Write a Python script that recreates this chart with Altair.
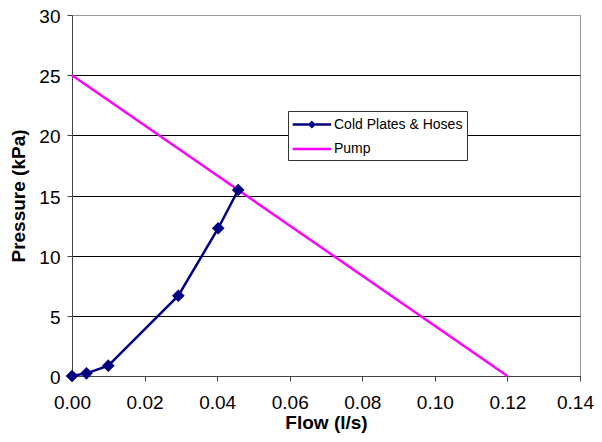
import altair as alt
import pandas as pd

# Data
cold_flow = [0.0, 0.0040, 0.0100, 0.0293, 0.0403, 0.0458]
cold_pressure = [0.0, 0.22, 0.86, 6.67, 12.28, 15.46]
pump_flow = [0.0, 0.12]
pump_pressure = [25.0, 0.0]

series_names = ["Cold Plates & Hoses", "Pump"]
series_colors = ["#000080", "#FF00FF"]
x_ticks = [0.0, 0.02, 0.04, 0.06, 0.08, 0.10, 0.12, 0.14]
y_ticks = [0, 5, 10, 15, 20, 25, 30]

rows = []
for i, (f, p) in enumerate(zip(cold_flow, cold_pressure)):
    rows.append({"series": series_names[0], "flow": f, "pressure": p, "order": i})
for i, (f, p) in enumerate(zip(pump_flow, pump_pressure)):
    rows.append({"series": series_names[1], "flow": f, "pressure": p, "order": i})
df = pd.DataFrame(rows)
cold_df = df[df["series"] == series_names[0]]

FONT = "Liberation Sans"
FS = 19

x_enc = alt.X(
    "flow:Q",
    scale=alt.Scale(domain=[0, 0.14], nice=False, zero=False),
    axis=alt.Axis(
        values=x_ticks, format=".2f", title="Flow (l/s)", grid=False,
        labelFont=FONT, labelFontSize=FS, labelColor="#000",
        titleFont=FONT, titleFontSize=FS, titleFontWeight="bold", titleColor="#000",
        tickSize=5, labelPadding=12, titlePadding=1,
        domainColor="#444", tickColor="#444", labelFlush=False, labelOverlap=False,
        labelOffset={"condition": {"test": "datum.value > 0.139", "value": -5}, "value": 0},
    ),
)
y_enc = alt.Y(
    "pressure:Q",
    scale=alt.Scale(domain=[0, 30], nice=False, zero=False),
    axis=alt.Axis(
        values=y_ticks, title="Pressure (kPa)", grid=True,
        gridColor={"condition": {"test": "datum.value >= 30", "value": "#999999"}, "value": "#000000"},
        gridWidth=1,
        labelFont=FONT, labelFontSize=FS, labelColor="#000",
        titleFont=FONT, titleFontSize=FS, titleFontWeight="bold", titleColor="#000",
        tickSize=5, labelPadding=7, titlePadding=10, labelOffset=1.5,
        domainColor="#444", tickColor="#444", labelFlush=False, labelOverlap=False,
    ),
)

cold_symbol = "M-1.1,0L3.7,0M1.3,-0.28L1.58,0L1.3,0.28L1.02,0Z"
pump_symbol = "M-1.1,0L3.7,0"

leg = alt.Legend(
    title=None, orient="none", legendX=216, legendY=96,
    fillColor="white", strokeColor="#333", padding=4,
    symbolType={"expr": "datum.label == 'Pump' ? '%s' : '%s'" % (pump_symbol, cold_symbol)},
    symbolFillColor={"expr": "scale('color', datum.value)"},
    symbolSize=256, symbolStrokeWidth=2.5, symbolOpacity=1,
    labelFont=FONT, labelFontSize=14, labelColor="#000", labelOffset=23,
    rowPadding=7.5, labelLimit=300,
)

lines = alt.Chart(df).mark_line(strokeWidth=2.5).encode(
    x=x_enc,
    y=y_enc,
    order="order:Q",
    color=alt.Color("series:N", scale=alt.Scale(domain=series_names, range=series_colors), legend=leg),
)

points = alt.Chart(cold_df).mark_point(shape="diamond", filled=True, size=160, opacity=1).encode(
    x="flow:Q",
    y="pressure:Q",
    color=alt.value("#000080"),
)

chart = alt.layer(lines, points).properties(
    width=508, height=361,
    autosize=alt.AutoSizeParams(type="none"),
    padding={"left": 64, "top": 7, "right": 14, "bottom": 58},
    background="white",
).configure_view(stroke="#999999", strokeWidth=1)

chart.save("out.html", embed_options={"renderer": "svg", "actions": False})
